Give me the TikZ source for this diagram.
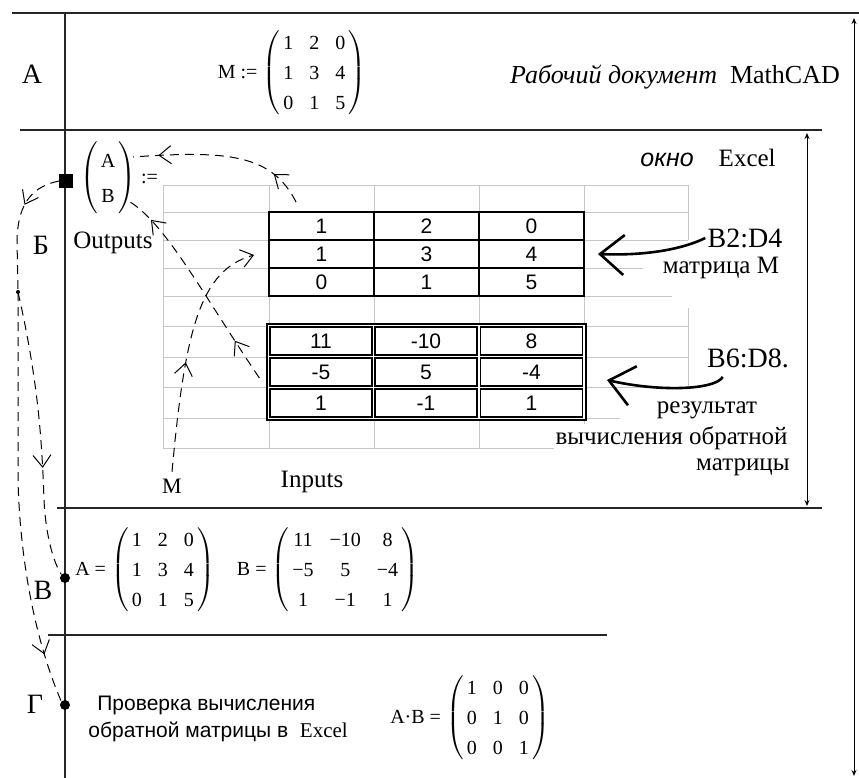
\documentclass[tikz,border=0pt]{standalone}
\usepackage{fontspec}
\setmainfont{Liberation Serif}
\setsansfont{Liberation Sans}
\usetikzlibrary{arrows.meta,positioning,calc,decorations.markings}
\newcommand{\mcmat}[1]{{\renewcommand{\arraystretch}{1.25}\setlength{\tabcolsep}{4pt}$\left(\begin{tabular}{@{\,}ccc@{\,}}#1\end{tabular}\right)$}}
\tikzset{
  sekt/.style    = {font=\fontsize{14}{16}\selectfont},
  mcad/.style    = {font=\fontsize{10}{12}\selectfont, inner sep=0pt},
  lbl/.style     = {font=\fontsize{12.5}{15}\selectfont, fill=white, inner sep=1pt},
  rng/.style     = {font=\fontsize{14}{16}\selectfont, fill=white, inner sep=1pt},
  xlnote/.style  = {font=\sffamily\fontsize{10.5}{13}\selectfont, inner sep=0pt},
  cellA/.style   = {draw, line width=0.9pt, minimum width=52.5pt, minimum height=14pt,
                    inner sep=0pt, font=\sffamily\fontsize{10.5}{12}\selectfont},
  cellB/.style   = {draw, line width=0.6pt, minimum width=51pt, minimum height=14pt,
                    inner sep=0pt, font=\sffamily\fontsize{10.5}{12}\selectfont},
  rule/.style    = {line width=0.9pt, black!85},
  gridline/.style= {draw=black!22, line width=0.5pt},
  dim/.style     = {{Stealth[length=3pt,width=2.5pt]}-{Stealth[length=3pt,width=2.5pt]}, line width=0.5pt},
  link/.style    = {dashed, dash pattern=on 4.5pt off 3pt, line width=0.5pt},
  midtip/.style  = {postaction={decorate,decoration={markings,
                    mark=at position #1 with {\arrow{Straight Barb[length=6pt,width=9pt]}}}}},
  pointer/.style = {-{Straight Barb[length=12pt,width=20pt]}, line width=1.3pt},
  sq/.style      = {draw, fill=black, minimum size=6.5pt, inner sep=0pt},
  dotn/.style    = {circle, fill=black, minimum size=5pt, inner sep=0pt},
}
\begin{document}
\begin{tikzpicture}[x=0.5pt,y=-0.5pt]
  \useasboundingbox (0,0) rectangle (859,778);
  % frame
  \draw[rule] (12,13) -- (859,13);
  \draw[rule] (20,130) -- (822,130);
  \draw[rule] (57,508) -- (822,508);
  \draw[rule] (48,635) -- (607,635);
  \draw[rule] (65,13) -- (65,778);
  \draw[dim] (807,133) -- (807,506);
  \draw[dim] (854,18) -- (854,776);

  % A
  \node[sekt] (secA) at (32,74) {А};
  \node[mcad] (matM) at (292,73) {M :=\ \mcmat{1&2&0\\1&3&4\\0&1&5}};
  \node[font=\fontsize{13}{15}\selectfont] (mcdoc) at (675,77) {\itshape Рабочий документ\upshape\ \ MathCAD};

  % B (Excel window)
  \node[sekt] (secB) at (41,245) {Б};
  \node[mcad] (outs) at (119,178) {{\renewcommand{\arraystretch}{1.45}$\left(\begin{tabular}{@{\,}c@{\,}}A\\B\end{tabular}\right)$}\ :=};
  \node[sq] (sq) at (66,181) {};
  \node[lbl] (outlbl) at (113,243) {Outputs};
  \node[font=\fontsize{12.5}{15}\selectfont] (okno) at (708,158) {\textsf{\itshape окно}\hspace{1em}Excel};

  \foreach \y in {185,212,240,326,357,387} \draw[gridline] (163,\y) -- (688,\y);
  \draw[gridline] (163,268) -- (643,268);
  \draw[gridline] (163,296) -- (672,296);
  \draw[gridline] (163,418) -- (620,418);
  \draw[gridline] (163,448) -- (584,448);
  \foreach \x in {163,269,374,479,584} \draw[gridline] (\x,185) -- (\x,448);
  \draw[gridline] (688,185) -- (688,240);
  \draw[gridline] (688,308) -- (688,387);

  \foreach \r/\y/\a/\b/\c in {1/226/1/2/0, 2/254/1/3/4, 3/282/0/1/5} {
    \node[cellA] (m\r1) at (321.5,\y) {\a};
    \node[cellA] (m\r2) at (426.5,\y) {\b};
    \node[cellA] (m\r3) at (531.5,\y) {\c};
  }
  \draw[line width=0.6pt, fill=white] (267,324) rectangle (586,420);
  \foreach \r/\y/\a/\b/\c in {1/341/11/-10/8, 2/372/-5/5/-4, 3/403/1/-1/1} {
    \node[cellB] (b\r1) at (321,\y) {\a};
    \node[cellB] (b\r2) at (426,\y) {\b};
    \node[cellB] (b\r3) at (531.5,\y) {\c};
  }

  \node[rng] (lblB2) at (745,238) {B2:D4};
  \node[lbl] (lblM) at (721,268) {матрица M};
  \node[rng] (lblB6) at (748,358) {B6:D8.};
  \node[lbl] (res1) at (707,410) {результат};
  \node[lbl, anchor=east] (res2) at (790,438) {вычисления обратной};
  \node[lbl, anchor=east] (res3) at (792,467) {матрицы};
  \coordinate (tipM) at (598,254);
  \coordinate (tipB) at (607,380);
  \draw[pointer] (lblB2.west) .. controls (685,248) and (650,256) .. (tipM);
  \draw[pointer] ($(lblB6.south west)+(18,7)$) .. controls (715,390) and (660,392) .. (tipB);

  \node[font=\fontsize{12.5}{15}\selectfont] (inlbl) at (312,482) {Inputs};
  \node[font=\fontsize{11}{13}\selectfont] (mlbl) at (172,486) {M};

  % links
  \coordinate (aout) at (133,157);
  \coordinate (bout) at (127,200);
  \draw[link, midtip=0.2, midtip=0.86] ($(m11.north west)+(28,-9)$) .. controls (272,155) and (230,150) .. (aout);
  \draw[link, midtip=0.2, midtip=0.86] ($(b21.west)+(-10,6)$) .. controls (200,290) and (165,222) .. (bout);
  \draw[link, -{Straight Barb[length=6pt,width=9pt]}, midtip=0.45] (mlbl.north) .. controls (185,330) and (200,270) .. ($(m21.west)+(-14,1)$);

  \node[dotn] (dV) at (65,578) {};
  \node[dotn] (dG) at (65,705) {};
  \draw[link, midtip=0.33] (sq.west) .. controls (35,186) and (18,200) .. (17,240) -- (18,292) coordinate (split);
  \fill (split) circle (1pt);
  \draw[link, midtip=0.62] (split) .. controls (38,380) and (42,440) .. (44,500) .. controls (46,540) and (55,565) .. (dV.north west);
  \draw[link, midtip=0.88] (split) -- (18,480) .. controls (20,560) and (35,640) .. (dG.north west);

  % V
  \node[sekt] (secV) at (43,590) {В};
  \node[mcad] (matA) at (145,570) {A =\ \mcmat{1&2&0\\1&3&4\\0&1&5}};
  \node[mcad] (matB) at (328,570) {B =\ \mcmat{11&−10&8\\−5&5&−4\\1&−1&1}};

  % G
  \node[sekt] (secG) at (35,704) {Г};
  \node[xlnote, anchor=west] (chk1) at (97,705) {Проверка вычисления};
  \node[xlnote, anchor=west] (chk2) at (88,732) {обратной матрицы в\ \ \textrm{Excel}};
  \node[mcad] (matAB) at (470,718) {A·B =\ \mcmat{1&0&0\\0&1&0\\0&0&1}};
\end{tikzpicture}
\end{document}
